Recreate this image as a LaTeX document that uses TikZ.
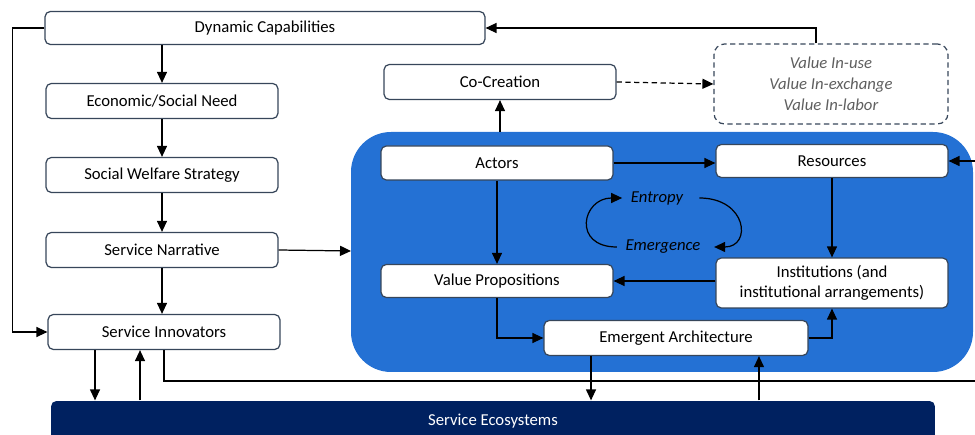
\documentclass[tikz,border=0pt]{standalone}
\usepackage{fontspec}
\setmainfont{Carlito}
\usepackage{tikz}
\usetikzlibrary{shapes,positioning,arrows.meta}
\definecolor{boxline}{RGB}{55,70,90}
\definecolor{ecoblue}{RGB}{36,113,212}
\definecolor{navy}{RGB}{0,33,96}
\definecolor{valgray}{RGB}{95,95,95}
\tikzset{blk/.style={rectangle,rounded corners=3pt,draw=boxline,fill=white,line width=0.7pt,minimum width=4.64cm,minimum height=0.7cm,font=\fontsize{9.5}{11}\selectfont,align=center}}
\tikzset{lbl/.style={font=\fontsize{9.5}{11}\selectfont\itshape}}
\tikzset{link/.style={->,line width=0.7pt}}

\begin{document}
\begin{tikzpicture}[>={Triangle[length=2.2mm,width=2mm]},x=0.02cm,y=-0.02cm]
        \useasboundingbox (0,0) rectangle (975,435);
        \fill[ecoblue,rounded corners=0.8cm] (351,132) rectangle (973,372);

        \node[blk,minimum width=8.8cm,minimum height=0.66cm] (dc) at (265,28) {Dynamic Capabilities};
        \node[blk] (esn) at (162,101) {Economic/Social Need};
        \node[blk] (sws) at (162,175) {Social Welfare Strategy};
        \node[blk] (sn) at (162,250) {Service Narrative};
        \node[blk] (si) at (164,332) {Service Innovators};
        \node[blk] (cc) at (500,82) {Co-Creation};
        \node[blk,dash pattern=on 3pt off 2pt,fill=none,minimum width=4.68cm,minimum height=1.6cm,rounded corners=6pt,text=valgray,font=\fontsize{9.5}{12}\selectfont\itshape] (val) at (831,84) {Value In-use\\Value In-exchange\\Value In-labor};
        \node[blk,minimum height=0.68cm] (act) at (497,163) {Actors};
        \node[blk,minimum height=0.66cm] (res) at (832,161) {Resources};
        \node[blk,minimum height=0.66cm] (vp) at (497,281) {Value Propositions};
        \node[blk,minimum height=1cm] (inst) at (832,283) {Institutions (and\\institutional arrangements)};
        \node[blk,minimum width=5.28cm] (ea) at (676,338) {Emergent Architecture};
        \node[blk,draw=none,fill=navy,text=white,minimum width=17.68cm,minimum height=0.8cm] (se) at (493,421) {Service Ecosystems};
        \node[lbl] (ent) at (657,198) {Entropy};
        \node[lbl] (emg) at (663,247) {Emergence};
        \coordinate (hub) at (351,251);
        \coordinate (top) at (500,132);
        \coordinate (edge) at (990,381);

        \draw [link] (dc.south -| esn) -- (esn);
        \draw [link] (esn) to (sws);
        \draw [link] (sws) to (sn);
        \draw [link] (sn.south) -- (sn.south |- si.north);
        \draw [link] (dc.west) -- ++(-32,0) |- (si.west);
        \draw [link] (sn.east) -- (hub);
        \draw [link] (top) -- (cc.south);
        \draw [link,dash pattern=on 3pt off 2pt] (cc.east) -- (val.west);
        \draw [link] ([xshift=-0.3cm]val.north) |- (dc.east);
        \draw [link] (act.east) -- (act.east -| res.west);
        \draw [link] (act) to (vp);
        \draw [link] (res) to (inst);
        \draw [link] (inst.west |- vp.east) -- (vp.east);
        \draw [link] (vp.south) |- (ea.west);
        \draw [link] (ea.east) -| (inst.south);
        \draw [link] ([xshift=-1.7cm]ea.south) -- ([xshift=-1.7cm]ea.south |- se.north);
        \draw [link] ([xshift=1.66cm]ea.south |- se.north) -- ([xshift=1.66cm]ea.south);
        \draw [link] ([xshift=-1.38cm]si.south) -- ([xshift=-1.38cm]si.south |- se.north);
        \draw [link] ([xshift=-0.48cm]si.south |- se.north) -- ([xshift=-0.48cm]si.south);
        \draw [link] (si.south) |- (edge) |- (res.east);
        \draw [link] ([xshift=-0.05cm]emg.west) .. controls +(-45,0) and +(-40,0) .. ([xshift=-0.05cm]ent.west);
        \draw [link] ([xshift=0.2cm]ent.east) .. controls +(48,0) and +(38,0) .. ([xshift=0.15cm]emg.east);
\end{tikzpicture}
\end{document}
